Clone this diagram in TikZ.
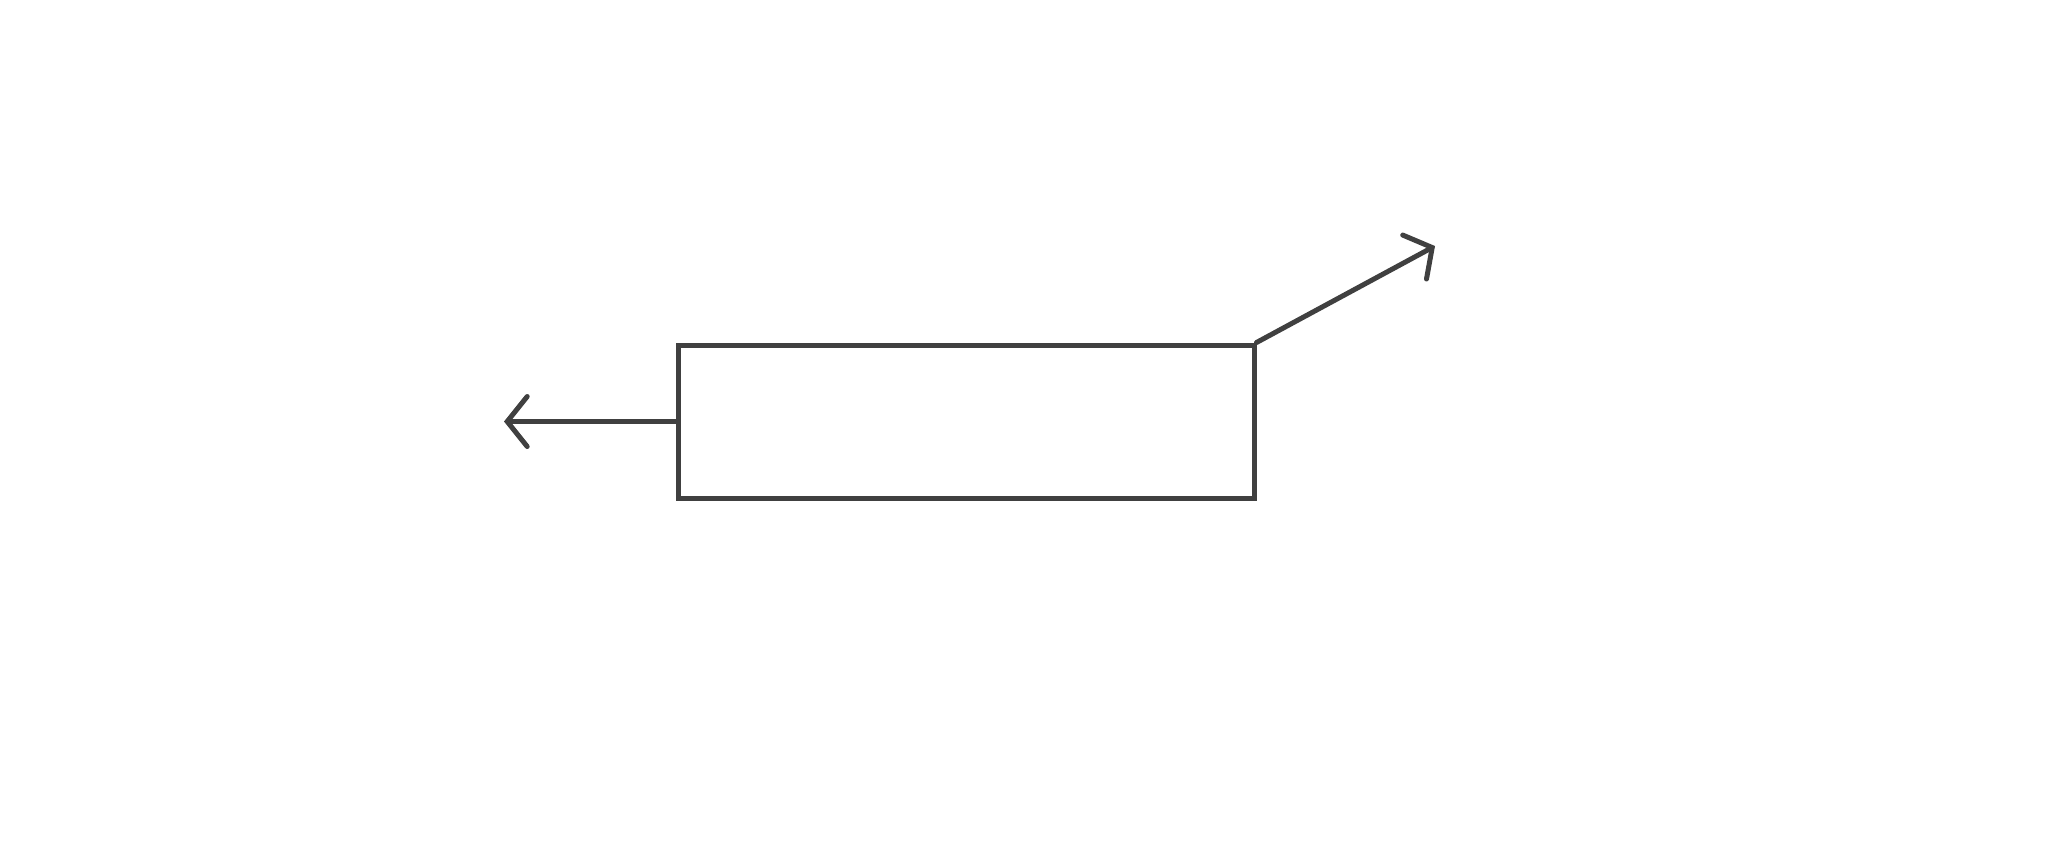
\documentclass[tikz,border=0pt]{standalone}
\usepackage{xcolor}
\usetikzlibrary{arrows.meta, positioning}
\definecolor{inkgray}{HTML}{404040}

\begin{document}
\begin{tikzpicture}[
    x=0.5pt, y=-0.5pt,
    mybox/.style={draw=inkgray, line width=2.5pt, minimum width=288pt, minimum height=76.5pt, inner sep=0pt},
    myarrow/.style={draw=inkgray, line width=2.5pt, line cap=round, line join=round,
        -{Straight Barb[length=10pt, width=25pt, line cap=round]}}
]
\useasboundingbox (0,0) rectangle (2064,864);

% Box
\node[mybox] (box) at (966,421.5) {};

% Arrows
\coordinate (lefttip) at (504,421.5);
\coordinate (righttip) at (1435,246);
\draw[myarrow] (box.west) -- (lefttip);
\draw[myarrow] (box.north east) -- (righttip);

\end{tikzpicture}
\end{document}
